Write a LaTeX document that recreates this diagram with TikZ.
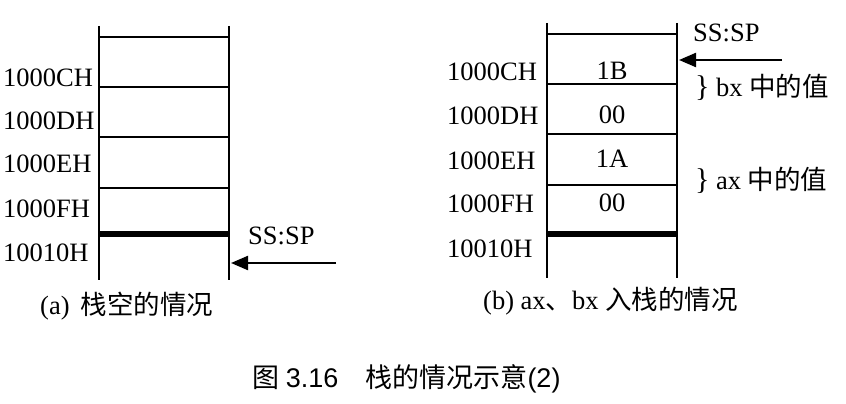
\documentclass[tikz,border=0pt]{standalone}
\usepackage{fontspec}
\setmainfont{Liberation Serif}
\newfontfamily\cjk{Noto Sans CJK SC}
\newfontfamily\capfont{Liberation Sans}
\usetikzlibrary{arrows.meta}
\begin{document}
\begin{tikzpicture}[x=1pt,y=-1pt,
  txt/.style={inner sep=0pt,font=\fontsize{26.5}{30}\selectfont},
  lab/.style={txt,anchor=base west},
  val/.style={txt,anchor=base},
  thinln/.style={line width=2.2pt},
  thickln/.style={line width=6.5pt},
  sparrow/.style={line width=2.2pt,-{Triangle[length=17pt,width=14pt]}}]
\useasboundingbox (0,0) rectangle (846,404);
% ---------- (a) ----------
\coordinate (aTL) at (99,26);
\coordinate (aBL) at (99,280);
\coordinate (aTR) at (229,26);
\coordinate (aBR) at (229,280);
\draw[thinln] (aTL) -- (aBL);
\draw[thinln] (aTR) -- (aBR);
\foreach \yy in {37,87,137,188}{\draw[thinln] (99,\yy) -- (229,\yy);}
\draw[thickln] (99,234) -- (229,234);
\node[lab] (a1) at (3,86) {1000CH};
\node[lab] (a2) at (3,129) {1000DH};
\node[lab] (a3) at (3,172) {1000EH};
\node[lab] (a4) at (3,217) {1000FH};
\node[lab] (a5) at (3,261) {10010H};
\node[lab] (ass) at (248,244) {SS:SP};
\coordinate (aarS) at (336,263);
\coordinate (aarE) at (231,263);
\draw[sparrow] (aarS) -- (aarE);
\node[lab] (capa) at (40,314) {(a)\, {\cjk 栈空的情况}};
% ---------- (b) ----------
\coordinate (bTL) at (547,23);
\coordinate (bBL) at (547,278);
\coordinate (bTR) at (677,23);
\coordinate (bBR) at (677,278);
\draw[thinln] (bTL) -- (bBL);
\draw[thinln] (bTR) -- (bBR);
\foreach \yy in {34,84,134,185}{\draw[thinln] (547,\yy) -- (677,\yy);}
\draw[thickln] (547,234) -- (677,234);
\node[lab] (b1) at (447,81) {1000CH};
\node[lab] (b2) at (447,124) {1000DH};
\node[lab] (b3) at (447,169) {1000EH};
\node[lab] (b4) at (447,212) {1000FH};
\node[lab] (b5) at (447,257) {10010H};
\node[val] (v1) at (612,79) {1B};
\node[val] (v2) at (612,123) {00};
\node[val] (v3) at (612,167) {1A};
\node[val] (v4) at (612,211) {00};
\node[lab] (bss) at (693,42) {SS:SP};
\coordinate (barS) at (782,60);
\coordinate (barE) at (679,60);
\draw[sparrow] (barS) -- (barE);
\node[lab] (bxv) at (695,96) {{\fontsize{30}{30}\selectfont\}} bx {\cjk 中的值}};
\node[lab] (axv) at (695,189) {{\fontsize{30}{30}\selectfont\}} ax {\cjk 中的值}};
\node[lab] (capb) at (483,309) {(b) ax{\cjk 、}bx {\cjk 入栈的情况}};
% ---------- figure caption ----------
\node[anchor=base west,inner sep=0pt,font=\fontsize{27}{30}\selectfont] (cap) at (252,387)
  {{\cjk 图} {\capfont 3.16}\hspace{27pt}{\cjk 栈的情况示意}{\capfont (2)}};
\end{tikzpicture}
\end{document}
